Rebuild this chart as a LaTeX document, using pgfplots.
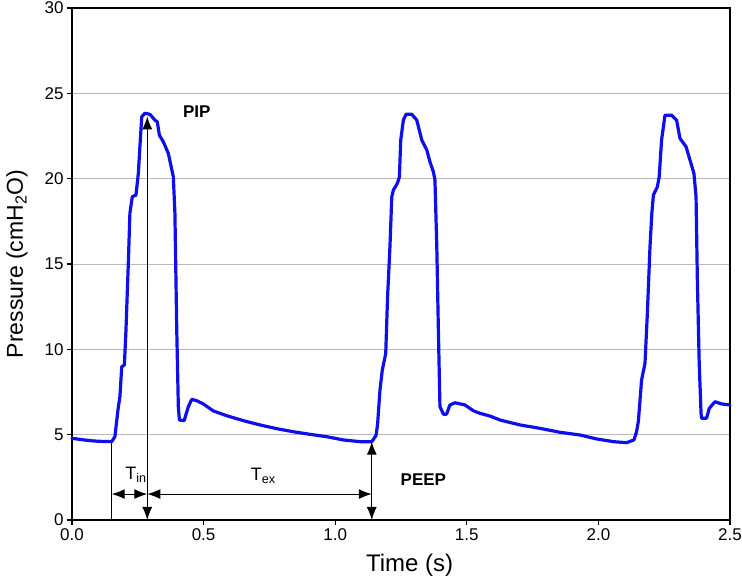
\documentclass[border=0pt]{standalone}
\usepackage{fontspec}
\setmainfont{Liberation Sans}
\usepackage{pgfplots}
\pgfplotsset{compat=1.18}
\usetikzlibrary{arrows.meta}
\definecolor{curve}{RGB}{15,15,235}
\begin{document}
\begin{tikzpicture}
\useasboundingbox (-72pt,-65pt) rectangle (670pt,520pt);
\begin{axis}[
 at={(0pt,0pt)}, anchor=south west,
 scale only axis, width=658pt, height=512pt,
 xmin=0, xmax=2.5, ymin=0, ymax=30,
 xtick={0,0.5,1.0,1.5,2.0,2.5}, ytick={0,5,10,15,20,25,30},
 xticklabel style={/pgf/number format/fixed, /pgf/number format/fixed zerofill, /pgf/number format/precision=1},
 /pgf/number format/assume math mode=true,
 tick label style={font=\fontsize{17}{19}\selectfont},
 xlabel={Time (s)}, ylabel={Pressure (cmH\textsubscript{2}O)},
 xlabel style={font=\fontsize{24}{28}\selectfont, at={(rel axis cs:0.513,-0.088)}, anchor=center},
 ylabel style={font=\fontsize{23}{27}\selectfont, at={(rel axis cs:-0.0836,0.5)}, anchor=center},
 ymajorgrids, grid style={gray!55, line width=0.8pt},
 axis line style={line width=1.3pt},
 tick style={black, line width=1.1pt},
 tick align=outside, xtick pos=left, ytick pos=left,
 major tick length=5pt,
 clip=false,
]
\addplot[curve, line width=3.2pt, line join=round, line cap=round] coordinates {
(0.000,4.79) (0.040,4.70) (0.081,4.63) (0.120,4.60) (0.151,4.59) (0.163,4.88)
(0.175,6.5) (0.182,7.22) (0.189,8.98) (0.199,9.08) (0.205,11.1) (0.214,15.04)
(0.220,17.97) (0.229,18.94) (0.243,19.04) (0.252,20.3) (0.258,21.87) (0.265,23.63)
(0.277,23.83) (0.296,23.77) (0.315,23.43) (0.324,23.33) (0.332,22.55) (0.347,22.16)
(0.366,21.48) (0.385,20.11) (0.391,17.97) (0.398,11.13) (0.404,6.64) (0.408,5.86)
(0.426,5.82) (0.442,6.64) (0.455,7.07) (0.474,6.99) (0.499,6.80) (0.537,6.39)
(0.588,6.11) (0.651,5.82) (0.714,5.57) (0.778,5.35) (0.841,5.17) (0.904,5.02)
(0.968,4.88) (1.031,4.69) (1.094,4.59) (1.139,4.59) (1.155,4.95) (1.161,5.6)
(1.170,7.6) (1.179,8.79) (1.192,9.76) (1.199,13.08) (1.208,16.01) (1.215,18.94)
(1.221,19.33) (1.236,19.72) (1.244,20.11) (1.249,22.26) (1.259,23.43) (1.269,23.77)
(1.291,23.77) (1.310,23.43) (1.329,22.26) (1.348,21.68) (1.360,20.99) (1.373,20.40)
(1.379,19.92) (1.386,16.01) (1.392,11.13) (1.398,6.64) (1.411,6.2) (1.423,6.2)
(1.436,6.74) (1.455,6.87) (1.493,6.74) (1.525,6.40) (1.550,6.25) (1.588,6.09)
(1.626,5.86) (1.652,5.76) (1.702,5.57) (1.778,5.37) (1.854,5.14) (1.930,4.98)
(1.993,4.75) (2.057,4.59) (2.107,4.53) (2.135,4.69) (2.145,5.17) (2.152,5.8)
(2.164,8.2) (2.177,9.18) (2.186,12.1) (2.196,16.0) (2.203,17.97) (2.209,19.04)
(2.224,19.52) (2.231,20.11) (2.240,22.26) (2.253,23.72) (2.278,23.72) (2.297,23.43)
(2.310,22.36) (2.333,21.87) (2.348,21.09) (2.363,20.31) (2.371,18.94) (2.376,14.06)
(2.383,9.18) (2.390,6.25) (2.392,5.96) (2.411,5.96) (2.421,6.54) (2.443,6.93)
(2.468,6.80) (2.500,6.74)
};
\draw[line width=1pt] (axis cs:0.151,0) -- (axis cs:0.151,4.59);
\draw[line width=1.1pt, {Latex[length=13pt,width=10pt]}-{Latex[length=13pt,width=10pt]}] (axis cs:0.286,0) -- (axis cs:0.286,23.65);
\draw[line width=1.1pt, {Latex[length=13pt,width=10pt]}-{Latex[length=13pt,width=10pt]}] (axis cs:0.151,1.52) -- (axis cs:0.286,1.52);
\draw[line width=1.1pt, {Latex[length=13pt,width=10pt]}-{Latex[length=13pt,width=10pt]}] (axis cs:0.286,1.52) -- (axis cs:1.139,1.52);
\draw[line width=1.1pt, {Latex[length=13pt,width=10pt]}-{Latex[length=13pt,width=10pt]}] (axis cs:1.139,0) -- (axis cs:1.139,4.59);
\node[font=\bfseries\fontsize{17}{20}\selectfont] at (axis cs:0.474,23.9) {PIP};
\node[font=\bfseries\fontsize{17}{20}\selectfont] at (axis cs:1.335,2.34) {PEEP};
\node[font=\fontsize{18}{20}\selectfont] at (axis cs:0.243,2.64) {T\textsubscript{in}};
\node[font=\fontsize{18}{20}\selectfont] at (axis cs:0.727,2.6) {T\textsubscript{ex}};
\end{axis}
\end{tikzpicture}
\end{document}
